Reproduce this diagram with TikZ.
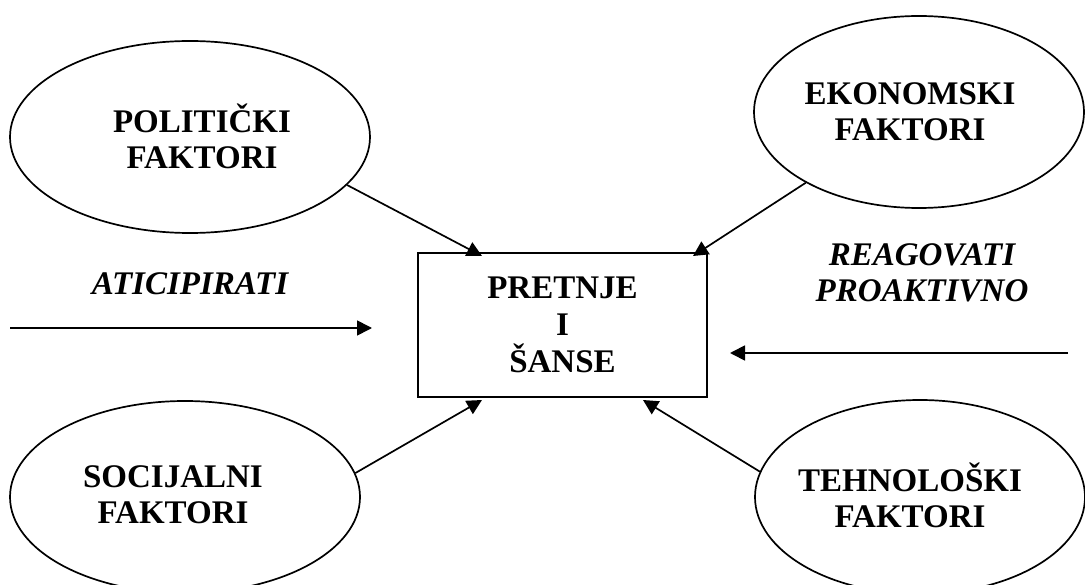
\documentclass[tikz,border=0pt]{standalone}
\usepackage{fontspec}
\setmainfont{Liberation Serif}
\usetikzlibrary{shapes.geometric,arrows.meta}
\begin{document}
\begin{tikzpicture}[x=1pt,y=-1pt,
  line width=1.7pt,
  txt/.style={font=\fontsize{33}{36}\selectfont\bfseries, align=center, inner sep=0pt},
  itxt/.style={font=\fontsize{33}{36}\selectfont\bfseries\itshape, align=center, inner sep=0pt},
  factor/.style={draw, ellipse, inner sep=0pt},
  centre/.style={draw, rectangle, minimum width=289pt, minimum height=144pt, inner sep=0pt,
    font=\fontsize{33}{37}\selectfont\bfseries, align=center},
  arr/.style={-{Triangle[length=15pt,width=15pt]}}]
\useasboundingbox (0,0) rectangle (1085,585);
\clip (0,0) rectangle (1085,585);

% central box
\node[centre] (box) at (562.5,325) {PRETNJE\\I\\ŠANSE};

% the four groups of factors
\node[factor, minimum width=360pt, minimum height=192pt] (pol) at (190,137) {};
\node[txt] (polt) at (202,136) {POLITIČKI\\FAKTORI};

\node[factor, minimum width=330pt, minimum height=192pt] (eko) at (919,112) {};
\node[txt] (ekot) at (910,112) {EKONOMSKI\\FAKTORI};

\node[factor, minimum width=350pt, minimum height=192pt] (soc) at (185,497) {};
\node[txt] (soct) at (173,495) {SOCIJALNI\\FAKTORI};

\node[factor, minimum width=330pt, minimum height=194pt] (teh) at (920,497) {};
\node[txt] (teht) at (910,495) {TEHNOLOŠKI\\FAKTORI};

% arrow tips on the box
\coordinate (tpol) at (482,256);
\coordinate (teko) at (693,256);
\coordinate (tsoc) at (482,400);
\coordinate (tteh) at (643,400);

\draw[arr] (pol.-17) -- (tpol);
\draw[arr] (eko.212) -- (teko);
\draw[arr] (soc.8.5) -- (tsoc);
\draw[arr] (teh.171) -- (tteh);

% horizontal arrows with their labels
\coordinate (la) at (10,328);
\coordinate (lb) at (372,328);
\draw[arr] (la) -- (lb);
\node[itxt] (atic) at (190,284) {ATICIPIRATI};

\coordinate (ra) at (1068,353);
\coordinate (rb) at (730,353);
\draw[arr] (ra) -- (rb);
\node[itxt] (reag) at (922,273) {REAGOVATI\\PROAKTIVNO};
\end{tikzpicture}
\end{document}
